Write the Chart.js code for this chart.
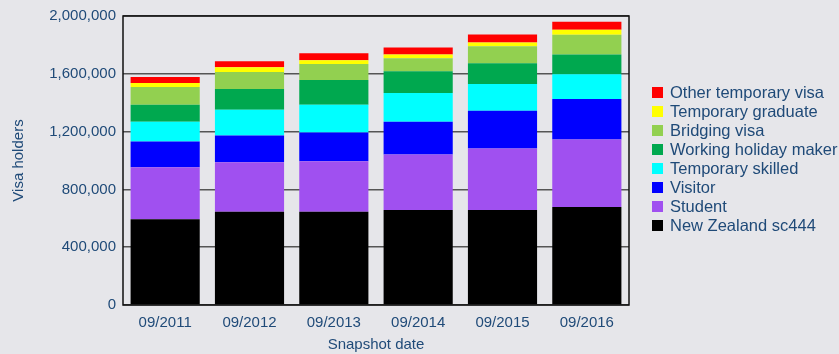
<!DOCTYPE html>
<html>
<head>
<meta charset="utf-8">
<script src="https://cdn.jsdelivr.net/npm/chart.js@4"></script>
<style>
  html, body { margin: 0; padding: 0; background: #e6e6ea; }
  #wrap { width: 839px; height: 354px; }
</style>
</head>
<body>
<div id="wrap"><canvas id="visaChart" width="839" height="354"></canvas></div>
<script>
// snapshot dates
const snapshots = ["09/2011", "09/2012", "09/2013", "09/2014", "09/2015", "09/2016"];

// visa holders by type
const nzSc444     = [594000, 645000, 645000, 658000, 658000, 679000];
const student     = [359000, 343000, 350000, 384000, 425000, 466000];
const visitor     = [178000, 185000, 199000, 226000, 261000, 281000];
const tempSkilled = [137000, 178000, 192000, 199000, 185000, 171000];
const holidayMaker = [117000, 144000, 171000, 151000, 144000, 137000];
const bridging    = [123000, 117000, 110000, 89000, 117000, 137000];
const tempGrad    = [28000, 34000, 27000, 27000, 27000, 34000];
const otherTemp   = [41000, 41000, 48000, 48000, 55000, 55000];

const yTicks = [0, 400000, 800000, 1200000, 1600000, 2000000];

const textColor = "#1f4a78";
const fontFamily = "'Liberation Sans', Arial, sans-serif";

// legend on the right, drawn by hand so it can run off the edge like the original
const sideLegend = {
  id: "sideLegend",
  afterDraw(chart) {
    const ctx = chart.ctx;
    const sets = chart.data.datasets.slice().reverse();
    ctx.save();
    ctx.font = "16.5px " + fontFamily;
    ctx.textBaseline = "middle";
    sets.forEach((ds, i) => {
      const y = 92.5 + i * 19;
      ctx.fillStyle = ds.backgroundColor;
      ctx.fillRect(652, y - 5.5, 11, 11);
      ctx.fillStyle = textColor;
      ctx.fillText(ds.label, 670, y + 1);
    });
    ctx.restore();
  }
};

// black frame round the plot
const frame = {
  id: "frame",
  afterDatasetsDraw(chart) {
    const a = chart.chartArea;
    const ctx = chart.ctx;
    ctx.save();
    ctx.strokeStyle = "#111";
    ctx.lineWidth = 1.5;
    ctx.strokeRect(a.left, a.top, a.right - a.left, a.bottom - a.top);
    ctx.restore();
  }
};

function makeSet(label, data, color) {
  return { label: label, data: data, backgroundColor: color, borderWidth: 0 };
}

new Chart(document.getElementById("visaChart").getContext("2d"), {
  type: "bar",
  data: {
    labels: snapshots,
    datasets: [
      makeSet("New Zealand sc444", nzSc444, "#000000"),
      makeSet("Student", student, "#a050f0"),
      makeSet("Visitor", visitor, "#0000ff"),
      makeSet("Temporary skilled", tempSkilled, "#00ffff"),
      makeSet("Working holiday maker", holidayMaker, "#00a84f"),
      makeSet("Bridging visa", bridging, "#92d050"),
      makeSet("Temporary graduate", tempGrad, "#ffff00"),
      makeSet("Other temporary visa", otherTemp, "#ff0000")
    ]
  },
  options: {
    responsive: false,
    animation: false,
    layout: { padding: { left: 0, top: 13, right: 210, bottom: 0 } },
    datasets: { bar: { categoryPercentage: 1, barPercentage: 0.82 } },
    plugins: {
      legend: { display: false },
      tooltip: { enabled: false }
    },
    scales: {
      x: {
        stacked: true,
        grid: { display: false, drawTicks: false },
        border: { display: false },
        ticks: { color: textColor, padding: 9, font: { family: fontFamily, size: 15 } },
        title: {
          display: true, text: "Snapshot date", color: textColor,
          font: { family: fontFamily, size: 15 }, padding: { top: 1, bottom: 0 }
        },
        afterFit(scale) { scale.height = 49; }
      },
      y: {
        stacked: true,
        min: 0,
        max: 2000000,
        afterBuildTicks(scale) { scale.ticks = yTicks.map(v => ({ value: v })); },
        grid: { color: "#555", lineWidth: 1.5, drawTicks: false },
        border: { display: false },
        ticks: {
          color: textColor, padding: 7,
          font: { family: fontFamily, size: 15 },
          callback: v => v.toLocaleString("en-US")
        },
        title: {
          display: true, text: "Visa holders", color: textColor,
          font: { family: fontFamily, size: 15 }, padding: { top: 10, bottom: 0 }
        },
        afterFit(scale) { scale.width = 123; }
      }
    }
  },
  plugins: [frame, sideLegend]
});
</script>
</body>
</html>
